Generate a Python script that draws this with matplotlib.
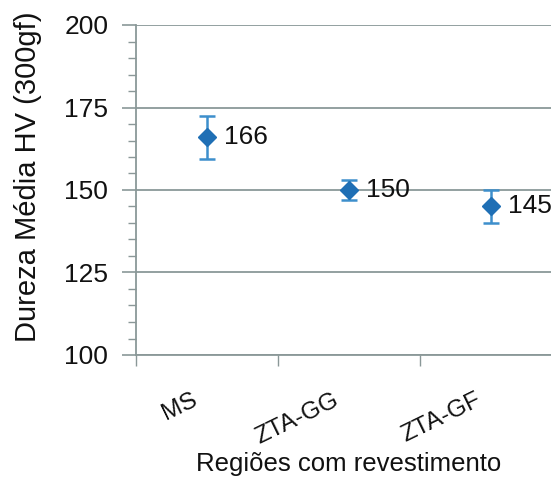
import matplotlib
matplotlib.use('Agg')
import matplotlib.pyplot as plt
from matplotlib.ticker import MultipleLocator

# data
regions = ['MS', 'ZTA-GG', 'ZTA-GF']
hardness = [166, 150, 145]
hardness_err = [6.5, 3, 5]

plt.rcParams['font.family'] = ['Liberation Sans', 'DejaVu Sans']

fig = plt.figure(figsize=(5.51, 4.83), dpi=100)
# plot area runs past the right edge, as in the cropped original
ax = fig.add_axes([136 / 551, 1 - 355 / 483, 426 / 551, 330 / 483])

grid_color = '#8a9898'
point_color = '#1f6fb5'
err_color = '#3d8fcc'
text_color = '#111111'

x = list(range(len(regions)))
ax.errorbar(x, hardness, yerr=hardness_err, fmt='D', color=point_color,
            ecolor=err_color, elinewidth=1.8, capsize=6, capthick=1.8,
            markersize=9, zorder=5)
for xi, v in zip(x, hardness):
    ax.annotate(f'{v}', (xi, v), xytext=(12, 0), textcoords='offset points',
                va='center', ha='left', fontsize=19, color=text_color, zorder=6)

ax.set_xlim(-0.5, len(regions) - 0.5)
ax.set_ylim(100, 200)
ax.yaxis.set_major_locator(MultipleLocator(25))
ax.yaxis.set_minor_locator(MultipleLocator(5))
ax.set_xticks([i - 0.5 for i in range(len(regions))])
ax.set_xticklabels([])
for xi, lab in zip(x, regions):
    ax.text(xi - 0.06, -0.15, lab, transform=ax.get_xaxis_transform(),
            rotation=26, rotation_mode='anchor', ha='right', va='baseline',
            fontsize=17.5, color=text_color)

ax.grid(True, axis='y', which='major', color=grid_color, linewidth=1.3)
ax.set_axisbelow(True)
for side in ['top', 'right']:
    ax.spines[side].set_visible(False)
for side in ['left', 'bottom']:
    ax.spines[side].set_color(grid_color)
    ax.spines[side].set_linewidth(1.3)

ax.tick_params(axis='y', which='major', length=10, width=1.2, color=grid_color,
               labelsize=19, labelcolor=text_color, pad=10)
ax.tick_params(axis='y', which='minor', length=6, width=1.0, color=grid_color)
ax.tick_params(axis='x', which='major', length=8, width=1.0, color=grid_color)

ax.set_ylabel('Dureza Média HV (300gf)', fontsize=21, color=text_color)
ax.yaxis.set_label_coords(-0.22, 0.54)
ax.set_xlabel('Regiões com revestimento', fontsize=18.5, color=text_color)
ax.xaxis.set_label_coords(0.5, -0.295)

fig.savefig('out.png', dpi=100, facecolor='white')
